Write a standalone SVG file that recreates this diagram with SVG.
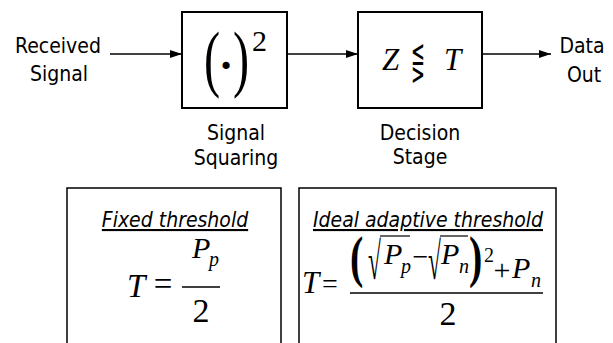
<svg xmlns="http://www.w3.org/2000/svg" width="613" height="343" viewBox="0 0 613 343">
<style>
.lbl{font-family:"DejaVu Sans Condensed","DejaVu Sans",sans-serif;font-size:21px;fill:#000;text-anchor:middle}
.ttl{font-family:"DejaVu Sans Condensed","DejaVu Sans",sans-serif;font-size:21px;font-style:italic;fill:#000;text-anchor:middle;text-decoration:underline}
.m{font-family:"Liberation Serif","Times New Roman",serif;fill:#000}
.mi{font-family:"Liberation Serif","Times New Roman",serif;font-style:italic;fill:#000}
.box{fill:#fff;stroke:#000;stroke-width:2}
.pbox{fill:#fff;stroke:#000;stroke-width:1.5}
.conn{stroke:#000;stroke-width:1.5;fill:none}
.bar{stroke:#000;stroke-width:1.5}
.vinc{stroke:#000;stroke-width:1.2}
</style>
<defs>
<marker id="ah" viewBox="0 0 12 8" refX="12" refY="4" markerWidth="12" markerHeight="8" markerUnits="userSpaceOnUse" orient="auto">
<path d="M0,0 L12,4 L0,8 Z" fill="#000"/>
</marker>
</defs>
<rect width="613" height="343" fill="#fff"/>
<g id="connectors">
<line class="conn" x1="110" y1="54" x2="182" y2="54" marker-end="url(#ah)"/>
<line class="conn" x1="287" y1="54" x2="358" y2="54" marker-end="url(#ah)"/>
<line class="conn" x1="482" y1="54" x2="551" y2="54" marker-end="url(#ah)"/>
</g>
<g id="input">
<text class="lbl" x="58" y="53">Received</text>
<text class="lbl" x="59" y="81">Signal</text>
</g>
<g id="squaring">
<rect class="box" x="182" y="12" width="105" height="96"/>
<text class="m" font-size="44" transform="translate(204,83) scale(1.1,1.675)">(</text>
<text class="m" font-size="44" font-weight="bold" x="226" y="80" text-anchor="middle">·</text>
<text class="m" font-size="44" transform="translate(233,83) scale(1.1,1.675)">)</text>
<text class="m" font-size="30" x="252" y="51">2</text>
<text class="lbl" x="236" y="140">Signal</text>
<text class="lbl" x="236" y="165">Squaring</text>
</g>
<g id="decision">
<rect class="box" x="358" y="12" width="124" height="96"/>
<text class="mi" font-size="31" x="382" y="70">Z</text>
<text font-family="DejaVu Serif,DejaVu Sans,serif" font-size="30" text-anchor="middle" transform="translate(418,75) scale(0.55,1.2)">⋚</text>
<text class="mi" font-size="31" x="444" y="70">T</text>
<text class="lbl" x="420" y="140">Decision</text>
<text class="lbl" x="420" y="164">Stage</text>
</g>
<g id="output">
<text class="lbl" x="582" y="53">Data</text>
<text class="lbl" x="584" y="82">Out</text>
</g>
<g id="fixed">
<rect class="pbox" x="67" y="188" width="214" height="170"/>
<text class="ttl" x="175" y="227">Fixed threshold</text>
<text class="mi" font-size="33" x="127" y="297">T</text>
<text class="m" font-size="33" x="163" y="295" text-anchor="middle">=</text>
<line class="bar" x1="182" y1="287" x2="220" y2="287"/>
<text class="mi" font-size="30" x="192" y="258">P</text>
<text class="mi" font-size="20" x="209" y="266">p</text>
<text class="m" font-size="34" x="201" y="322" text-anchor="middle">2</text>
</g>
<g id="adaptive">
<rect class="pbox" x="299" y="188" width="257" height="170"/>
<text class="ttl" x="428" y="227">Ideal adaptive threshold</text>
<text class="mi" font-size="31" x="302" y="293">T</text>
<text class="m" font-size="28" x="330" y="293" text-anchor="middle">=</text>
<line class="bar" x1="350" y1="293" x2="543" y2="293"/>
<text class="m" font-size="40" font-weight="bold" transform="translate(350,276) scale(1,1.4)">(</text>
<text class="m" font-size="36" transform="translate(368,279) scale(0.65,1.45)">√</text>
<line class="vinc" x1="380" y1="236" x2="410" y2="236"/>
<text class="mi" font-size="30" x="384" y="264">P</text>
<text class="mi" font-size="20" x="401" y="273">p</text>
<text class="m" font-size="28" x="420.5" y="266" text-anchor="middle">−</text>
<text class="m" font-size="36" transform="translate(428,279) scale(0.65,1.45)">√</text>
<line class="vinc" x1="440" y1="236" x2="468" y2="236"/>
<text class="mi" font-size="30" x="441" y="264">P</text>
<text class="mi" font-size="20" x="459" y="273">n</text>
<text class="m" font-size="40" font-weight="bold" transform="translate(469,276) scale(1,1.4)">)</text>
<text class="m" font-size="20" x="484" y="262">2</text>
<text class="m" font-size="30" x="502" y="280" text-anchor="middle">+</text>
<text class="mi" font-size="30" x="512" y="278">P</text>
<text class="mi" font-size="20" x="531" y="287">n</text>
<text class="m" font-size="34" x="448" y="325" text-anchor="middle">2</text>
</g>
</svg>
